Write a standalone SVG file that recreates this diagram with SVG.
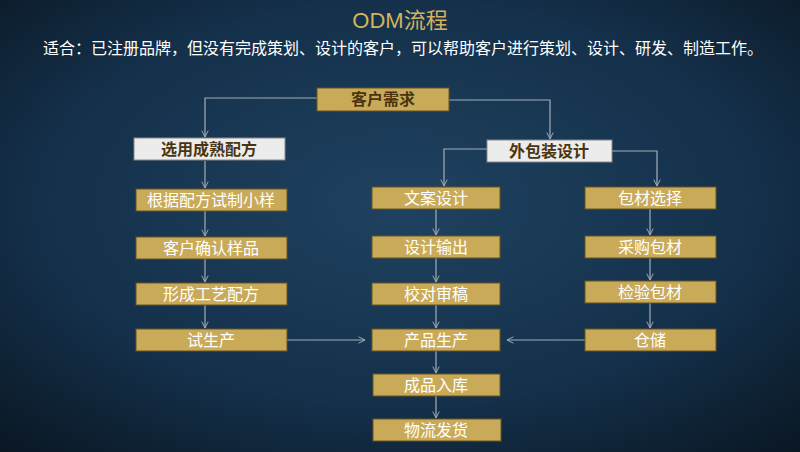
<svg xmlns="http://www.w3.org/2000/svg" width="800" height="452" viewBox="0 0 800 452">
<defs>
<radialGradient id="bg" cx="0.5" cy="0.45" r="0.75">
<stop offset="0" stop-color="#1f4260"/><stop offset="0.6" stop-color="#14304a"/><stop offset="1" stop-color="#0a1622"/>
</radialGradient>
<marker id="ar" viewBox="0 0 10 10" refX="9" refY="5" markerWidth="8" markerHeight="8" orient="auto" markerUnits="userSpaceOnUse">
<path d="M1,1 L9,5 L1,9" fill="none" stroke="#a4adb8" stroke-width="1.2"/>
</marker>
<style>
text{font-family:"Liberation Sans","Noto Sans CJK SC",sans-serif}
.g rect{fill:#c9aa58;stroke:#6b5520;stroke-width:1}
.g text{fill:#fff;font-size:16px;text-anchor:middle}
.w rect{fill:#ececec;stroke:#888;stroke-width:1}
.w text{fill:#4a3510;font-size:16px;font-weight:bold;text-anchor:middle}
.top text{fill:#4a3510;font-weight:bold}
.c path{fill:none;stroke:#a4adb8;stroke-width:1.2;marker-end:url(#ar)}
</style>
</defs>
<rect width="800" height="452" fill="url(#bg)"/>
<text x="400" y="28" font-size="22" fill="#d6b35a" text-anchor="middle">ODM流程</text>
<text x="403" y="54" font-size="16" fill="#fff" text-anchor="middle">适合：已注册品牌，但没有完成策划、设计的客户，可以帮助客户进行策划、设计、研发、制造工作。</text>
<g class="c">
<path d="M317,98 H205 V137"/>
<path d="M449,100 H550 V139"/>
<path d="M487,149 H444 V186"/>
<path d="M612,151 H657 V186"/>
<path d="M205,161 V188"/>
<path d="M205,211 V236"/>
<path d="M205,259 V282"/>
<path d="M205,305 V328"/>
<path d="M436,209 V235"/>
<path d="M436,258 V282"/>
<path d="M436,305 V328"/>
<path d="M436,351 V373"/>
<path d="M436,396 V418"/>
<path d="M650,209 V235"/>
<path d="M650,258 V280"/>
<path d="M650,303 V328"/>
<path d="M287,340 H365"/>
<path d="M585,340 H507"/>
</g>
<g id="n1" class="g top"><rect x="317" y="88" width="132" height="23"/><text x="383" y="105">客户需求</text></g>
<g id="n2" class="w"><rect x="134" y="138" width="151" height="22"/><text x="209" y="155">选用成熟配方</text></g>
<g id="n3" class="w"><rect x="487" y="140" width="125" height="22"/><text x="549" y="157">外包装设计</text></g>
<g id="n4" class="g"><rect x="136" y="189" width="151" height="22"/><text x="211" y="206">根据配方试制小样</text></g>
<g id="n5" class="g"><rect x="136" y="237" width="151" height="22"/><text x="211" y="254">客户确认样品</text></g>
<g id="n6" class="g"><rect x="136" y="283" width="151" height="22"/><text x="211" y="300">形成工艺配方</text></g>
<g id="n7" class="g"><rect x="136" y="329" width="151" height="22"/><text x="211" y="346">试生产</text></g>
<g id="n8" class="g"><rect x="372" y="187" width="128" height="22"/><text x="436" y="204">文案设计</text></g>
<g id="n9" class="g"><rect x="372" y="236" width="128" height="22"/><text x="436" y="253">设计输出</text></g>
<g id="n10" class="g"><rect x="372" y="283" width="128" height="22"/><text x="436" y="300">校对审稿</text></g>
<g id="n11" class="g"><rect x="372" y="329" width="128" height="22"/><text x="436" y="346">产品生产</text></g>
<g id="n12" class="g"><rect x="373" y="374" width="127" height="22"/><text x="436" y="391">成品入库</text></g>
<g id="n13" class="g"><rect x="373" y="419" width="128" height="22"/><text x="436" y="436">物流发货</text></g>
<g id="n14" class="g"><rect x="585" y="187" width="131" height="22"/><text x="650" y="204">包材选择</text></g>
<g id="n15" class="g"><rect x="585" y="236" width="131" height="22"/><text x="650" y="253">采购包材</text></g>
<g id="n16" class="g"><rect x="585" y="281" width="131" height="22"/><text x="650" y="298">检验包材</text></g>
<g id="n17" class="g"><rect x="585" y="329" width="131" height="22"/><text x="650" y="346">仓储</text></g>
</svg>
